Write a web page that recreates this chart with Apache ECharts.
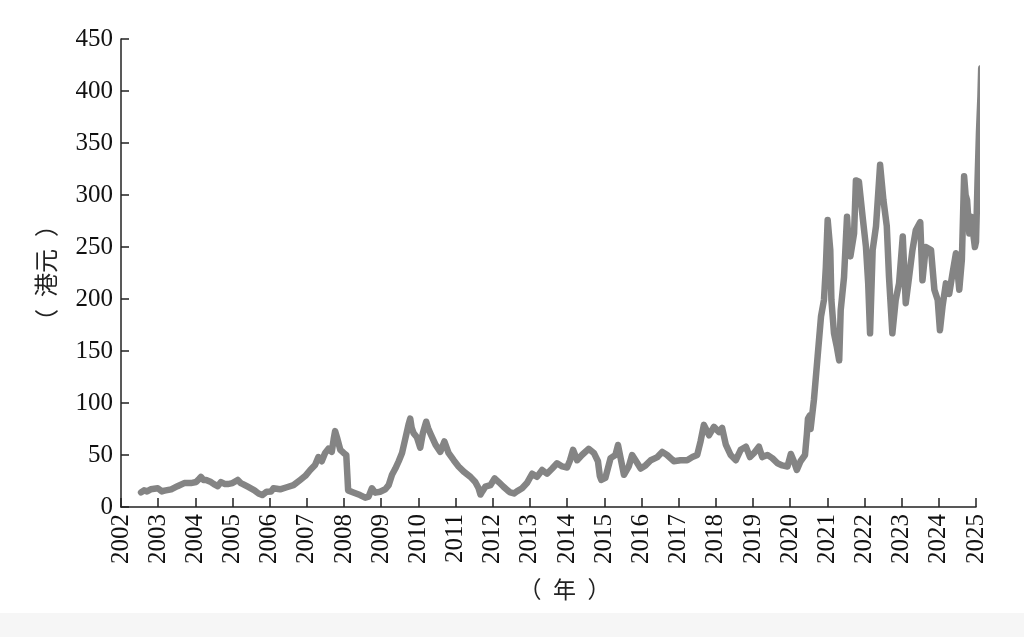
<!DOCTYPE html>
<html>
<head>
<meta charset="utf-8">
<script src="https://cdn.jsdelivr.net/npm/echarts@6/dist/echarts.min.js"></script>
<style>
html,body{margin:0;padding:0;background:#fff;}
#chart{width:1024px;height:637px;}
</style>
</head>
<body>
<div id="chart"></div>
<script>
// Time (decimal year) and closing price (HKD)
var years = [
2002.54,2002.62,2002.70,2002.80,2002.99,2003.10,2003.17,2003.35,2003.52,2003.70,2003.88,
2004.02,2004.10,2004.15,2004.22,2004.29,2004.42,2004.50,2004.60,2004.69,2004.80,2004.87,
2005.00,2005.14,2005.22,2005.28,2005.41,2005.59,2005.70,2005.80,2005.92,
2006.04,2006.10,2006.28,2006.46,2006.64,2006.82,2006.96,
2007.09,2007.22,2007.31,2007.40,2007.49,2007.58,2007.67,2007.72,2007.76,2007.81,2007.90,2007.99,
2008.06,2008.09,2008.11,2008.25,2008.43,2008.57,2008.66,2008.75,2008.84,2008.97,
2009.11,2009.20,2009.29,2009.38,2009.47,2009.56,2009.65,2009.74,2009.78,2009.82,2009.87,2009.96,
2010.05,2010.12,2010.21,2010.26,2010.32,2010.46,2010.59,2010.70,2010.81,2010.95,
2011.08,2011.22,2011.40,2011.53,2011.62,2011.67,2011.72,2011.80,2011.94,
2012.05,2012.16,2012.29,2012.40,2012.47,2012.57,2012.65,2012.79,2012.92,
2013.06,2013.19,2013.33,2013.46,2013.60,2013.73,2013.87,
2014.00,2014.08,2014.16,2014.27,2014.40,2014.58,2014.72,2014.83,2014.88,2014.92,
2015.03,2015.17,2015.30,2015.37,2015.44,2015.53,2015.66,2015.75,2015.84,2015.98,
2016.11,2016.25,2016.43,2016.56,2016.69,2016.87,
2017.05,2017.23,2017.37,2017.50,2017.59,2017.68,2017.82,2017.95,
2018.09,2018.17,2018.27,2018.40,2018.54,2018.67,2018.81,2018.92,
2019.03,2019.16,2019.25,2019.39,2019.52,2019.66,2019.79,2019.93,
2020.02,2020.10,2020.18,2020.28,2020.40,2020.45,2020.48,2020.53,2020.55,2020.64,2020.74,2020.83,2020.91,2020.96,
2021.01,2021.08,2021.11,2021.18,2021.25,2021.32,2021.36,2021.45,2021.53,2021.58,2021.62,2021.72,2021.77,2021.85,2021.95,
2022.04,2022.10,2022.15,2022.22,2022.31,2022.37,2022.42,2022.51,2022.60,2022.66,2022.75,2022.84,2022.93,
2023.03,2023.11,2023.20,2023.29,2023.38,2023.50,2023.56,2023.65,2023.79,2023.88,2023.97,
2024.03,2024.10,2024.19,2024.28,2024.37,2024.46,2024.55,2024.62,2024.68,2024.72,2024.76,2024.82,2024.87,2024.91,2024.97,
2025.00,2025.04,2025.08,2025.12,2025.14,2025.16,2025.18,2025.20
];
var prices = [
14,16,15,17,18,15,15.7,17,20,23,23,
24,27,29,26,26,24,22,20,24,22,22,
23,26,23,22,19.5,16,13,11.5,14.7,
15,18,17,19,21,26,30,
35.6,40.4,48,44,52,56,53,65,73,67,55,52,
50,30,16,14,11.5,9,10,18,13.8,14.7,
17,21,31,37,44,52,66,80,85,76,71,67,
57,71,82,76,71,60,53,63,52,45,
39,34,29,24,18,12,15,19.5,21,
27.6,24,19.5,16,14,13,15,18,23,
32,29,35.6,32,37,42,39,
38,45,55,45,50,56,52,44,30,26,
28,47,50,59.6,47,31,39,50,45,37,
40,45,48,53,50,44,
45,45,48,50,63,79,69,77,
72,76,60,50,45,55,58,48,
52,58,48,50,47,42,40,39,
51,44,35.6,44,50,70,85,88,75,103,145,183,199,230,
276,247,199,167,155,141,189,221,279,250,241,263,314,313,279,
250,215,167,247,270,302,329,295,270,221,167,199,215,
260,196,221,247,266,274,218,250,247,209,199,
170,193,215,205,225,244,209,238,318,300,295,263,279,279,250,
255,311,360,395,422,390,340,315
];
var yearTicks = {min: 2002, max: 2025, step: 1};
var priceTicks = {min: 0, max: 450, step: 50};

var data = years.map(function (y, i) { return [y, prices[i]]; });

var chart = echarts.init(document.getElementById('chart'), null, {renderer: 'canvas'});
var serif = '"Liberation Serif", "Times New Roman", serif';
var cjk = '"Noto Sans CJK SC"';
chart.setOption({
  backgroundColor: '#ffffff',
  animation: false,
  graphic: [{
    type: 'rect', left: 0, top: 613, shape: {width: 1024, height: 24},
    style: {fill: '#f6f6f6'}, z: -10
  }],
  grid: {left: 121, right: 48, top: 39, bottom: 130, containLabel: false},
  xAxis: {
    type: 'value',
    min: yearTicks.min, max: yearTicks.max, interval: yearTicks.step,
    name: '（\u2002年\u2002）',
    nameLocation: 'middle',
    nameGap: 71,
    nameTextStyle: {fontFamily: cjk, fontSize: 23, color: '#222', padding: [0, 0, 0, 32]},
    axisLine: {show: true, lineStyle: {color: '#222', width: 1.5}},
    axisTick: {show: true, inside: true, length: 9, lineStyle: {color: '#222', width: 1.5}},
    axisLabel: {
      rotate: 90, margin: 7, fontFamily: serif, fontSize: 25, color: '#111',
      formatter: function (v) { return String(v); }
    },
    splitLine: {show: false}
  },
  yAxis: {
    type: 'value',
    min: priceTicks.min, max: priceTicks.max, interval: priceTicks.step,
    name: '（\u2002港元\u2002）',
    nameLocation: 'middle',
    nameRotate: 90,
    nameGap: 63,
    nameTextStyle: {fontFamily: cjk, fontSize: 24, color: '#222'},
    axisLine: {show: true, lineStyle: {color: '#222', width: 1.5}},
    axisTick: {show: true, inside: true, length: 8, lineStyle: {color: '#222', width: 1.5}},
    axisLabel: {margin: 8, fontFamily: serif, fontSize: 25, color: '#111'},
    splitLine: {show: false}
  },
  series: [{
    type: 'line',
    data: data,
    clip: false,
    showSymbol: false,
    symbol: 'none',
    sampling: null,
    lineStyle: {color: '#848484', width: 6.5, cap: 'round', join: 'round'}
  }]
});
</script>
</body>
</html>
